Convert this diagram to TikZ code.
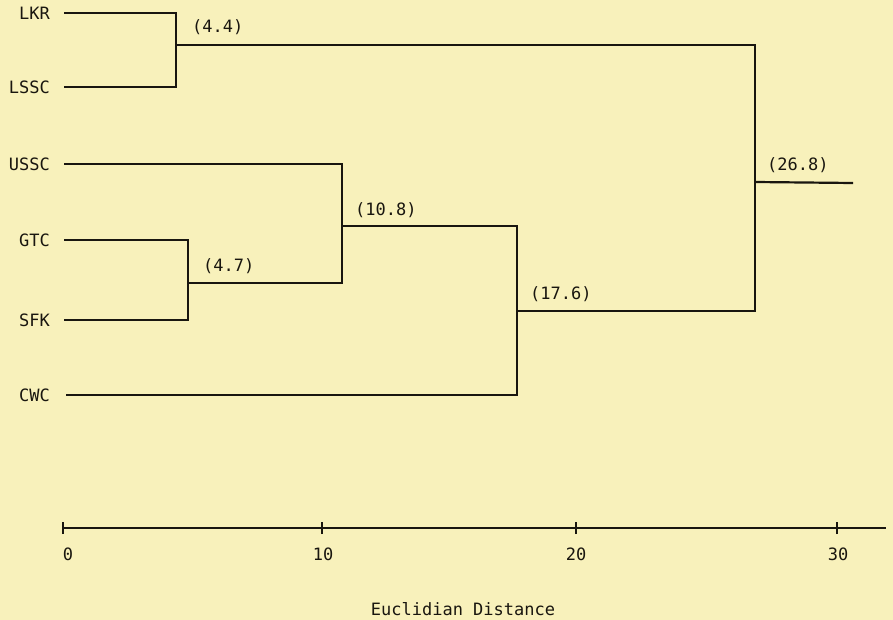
\documentclass[tikz,border=0pt]{standalone}
\usepackage{fontspec}
\setmonofont{DejaVu Sans Mono}
\definecolor{paper}{RGB}{248,241,187}
\definecolor{ink}{RGB}{25,22,15}
\begin{document}
\begin{tikzpicture}[x=1pt,y=-1pt,
  lbl/.style={font=\ttfamily\fontsize{17}{19}\selectfont, text=ink, inner sep=0pt},
  leaf/.style={lbl, anchor=east},
  mlbl/.style={lbl, anchor=base west},
  br/.style={draw=ink, line width=2.2pt},
  ax/.style={draw=ink, line width=2.4pt}]
\fill[paper] (0,0) rectangle (893,620);
\useasboundingbox (0,0) rectangle (893,620);
% leaves
\node[leaf] (lkr)  at (50,13)  {LKR};
\node[leaf] (lssc) at (50,87)  {LSSC};
\node[leaf] (ussc) at (50,164) {USSC};
\node[leaf] (gtc)  at (50,240) {GTC};
\node[leaf] (sfk)  at (50,320) {SFK};
\node[leaf] (cwc)  at (50,395) {CWC};
\coordinate (lkrE)  at (64,13);
\coordinate (lsscE) at (64,87);
\coordinate (usscE) at (64,164);
\coordinate (gtcE)  at (64,240);
\coordinate (sfkE)  at (64,320);
\coordinate (cwcE)  at (66,395);
% merge points
\coordinate (m1) at (176,45);
\coordinate (m2) at (188,283);
\coordinate (m3) at (342,226);
\coordinate (m4) at (517,311);
\coordinate (m5) at (755,182);
\coordinate (root) at (853,183);
% branches
\path[br] (lkrE) -| (m1) |- (lsscE);
\path[br] (gtcE) -| (m2) |- (sfkE);
\path[br] (usscE) -| (m3) |- (m2);
\path[br] (m3) -| (m4) |- (cwcE);
\path[br] (m1) -| (m5) |- (m4);
\path[br] (m5) -- (root);
% merge labels
\node[mlbl] (l1) at (192,33)  {(4.4)};
\node[mlbl] (l2) at (203,271) {(4.7)};
\node[mlbl] (l3) at (355,215) {(10.8)};
\node[mlbl] (l4) at (530,299) {(17.6)};
\node[mlbl] (l5) at (767,171) {(26.8)};
% axis
\coordinate (a0) at (63,528);
\coordinate (a10) at (322,528);
\coordinate (a20) at (576,528);
\coordinate (a30) at (837,528);
\coordinate (aend) at (886,528);
\path[ax] (a0) -- (aend);
\foreach \p in {a0,a10,a20,a30}{\path[draw=ink, line width=1.6pt] ([yshift=-6pt]\p) -- ([yshift=6pt]\p);}
\node[lbl] (t0)  at (68,554)  {0};
\node[lbl] (t10) at (323,554) {10};
\node[lbl] (t20) at (576,554) {20};
\node[lbl] (t30) at (838,554) {30};
\node[lbl] (title) at (463,609) {Euclidian Distance};
\end{tikzpicture}
\end{document}
